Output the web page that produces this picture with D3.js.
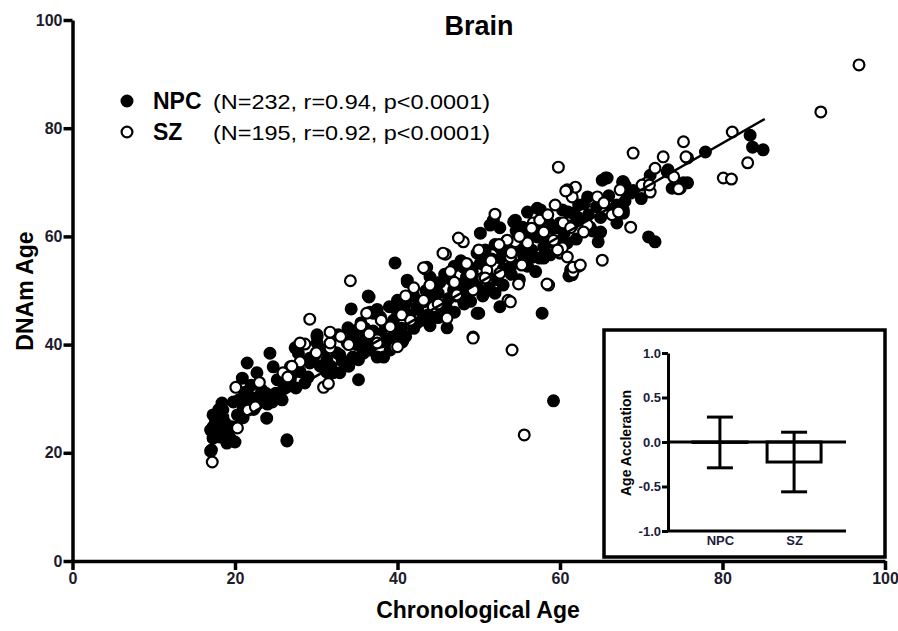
<!DOCTYPE html>
<html>
<head>
<meta charset="utf-8">
<script src="https://cdn.jsdelivr.net/npm/d3@7"></script>
<style>
  body { margin: 0; background: #fff; }
  text { font-family: Arial, "Liberation Sans", sans-serif; }
</style>
</head>
<body>
<svg id="chart" width="898" height="631"></svg>
<script>
'use strict';

// ---- data ----
var xTicks = [0, 20, 40, 60, 80, 100];
var yTicks = [0, 20, 40, 60, 80, 100];

var groups = ['NPC', 'SZ'];
var legendStats = ['(N=232, r=0.94, p<0.0001)', '(N=195, r=0.92, p<0.0001)'];

// [chronological age, DNAm age]
var npcPoints = [
    [17.1,20.5],[17.3,22.7],[17.3,24.8],[17.3,27.0],[18.4,29.2],[18.5,26.6],[18.4,24.2],[19.4,22.7],
    [20.0,22.0],[19.6,24.8],[19.8,29.4],[21.0,28.5],[21.9,30.3],[21.2,31.2],[23.3,31.6],[22.8,29.4],
    [24.6,29.4],[25.8,29.8],[23.9,26.4],[26.4,22.4],[20.9,33.8],[21.5,36.6],[22.7,34.8],[24.3,38.4],
    [24.7,35.9],[25.2,33.5],[26.8,33.5],[27.8,38.4],[28.6,32.9],[29.2,36.6],[30.1,40.3],[30.1,41.8],
    [31.3,37.2],[32.1,34.8],[32.9,34.8],[35.2,33.5],[34.5,37.7],[35.8,38.4],[36.6,39.0],[33.8,40.3],
    [37.5,37.7],[38.3,37.7],[32.7,41.8],[26.8,35.9],[17.0,24.2],[18.2,22.9],[18.5,27.9],[17.0,20.3],
    [40.6,40.5],[18.0,28.0],[18.8,25.5],[19.0,23.5],[17.6,26.0],[20.5,29.8],[21.5,30.0],[22.0,32.5],
    [22.3,28.0],[23.0,30.5],[23.8,31.0],[24.0,29.0],[25.0,31.0],[26.0,32.0],[27.0,34.5],[27.5,32.0],
    [28.0,35.0],[29.0,34.0],[29.8,38.0],[30.5,36.0],[31.0,39.0],[31.8,36.0],[32.5,38.5],[33.2,37.0],
    [34.0,36.0],[35.0,40.0],[36.0,41.0],[37.0,40.0],[38.0,42.0],[39.0,41.0],[21.0,26.5],[20.3,27.0],
    [19.0,21.8],[39.7,55.1],[36.5,48.8],[34.3,46.6],[46.1,43.1],[50.0,45.8],[41.2,51.6],[36.6,46.0],
    [37.9,45.1],[33.9,43.1],[35.0,42.7],[30.1,41.4],[27.4,39.4],[32.9,38.1],[35.2,37.2],[36.3,39.0],
    [39.1,39.0],[40.7,40.9],[42.4,44.0],[44.4,50.6],[46.9,50.1],[48.1,51.4],[48.9,54.3],[49.8,56.9],
    [30.7,39.0],[29.2,37.5],[31.3,34.9],[38.5,43.5],[39.5,44.5],[40.0,46.0],[40.5,43.0],[41.0,47.5],
    [41.5,45.5],[42.0,49.0],[42.5,46.5],[43.0,48.0],[43.5,50.0],[43.8,45.5],[44.0,52.5],[44.6,47.8],
    [45.0,49.5],[45.2,51.5],[45.5,46.5],[45.8,53.0],[46.3,48.5],[46.6,52.0],[47.0,54.5],[47.2,49.0],
    [47.5,51.0],[47.8,55.5],[48.2,47.5],[48.5,52.5],[48.8,50.0],[49.2,53.5],[49.5,51.5],[50.2,55.0],
    [50.5,49.0],[50.8,57.5],[51.0,53.0],[51.3,50.5],[51.6,55.8],[52.0,58.5],[52.3,52.0],[52.7,56.0],
    [53.0,54.0],[53.4,59.0],[53.8,57.0],[54.2,55.0],[54.6,61.0],[55.0,58.0],[55.5,56.5],[56.0,60.5],
    [56.5,57.5],[57.0,62.0],[57.5,56.0],[58.0,63.5],[58.5,59.0],[59.0,61.5],[59.5,58.5],[60.0,62.5],
    [60.5,60.5],[61.0,64.5],[61.5,62.0],[62.0,59.5],[62.5,63.0],[63.0,66.0],[63.5,64.0],[64.0,61.0],
    [64.5,65.5],[65.0,63.5],[66.0,67.5],[66.5,65.0],[67.0,62.5],[68.0,66.5],[69.0,68.5],[70.0,67.0],
    [34.5,41.5],[35.5,44.0],[36.0,43.0],[37.0,42.5],[37.5,46.5],[38.0,40.5],[39.0,47.0],[40.0,42.0],
    [41.0,41.5],[42.0,43.0],[43.0,44.5],[44.0,43.5],[45.0,45.0],[46.0,47.0],[47.0,46.0],[48.0,49.5],
    [49.0,48.0],[50.0,52.0],[51.0,50.0],[52.0,49.5],[53.0,51.0],[54.0,53.0],[55.0,52.0],[56.0,54.5],
    [57.0,53.5],[58.0,56.0],[56.0,64.5],[57.2,65.2],[60.6,58.8],[61.5,52.9],[57.8,45.8],[52.6,47.0],
    [50.2,60.6],[51.4,62.1],[54.5,63.0],[57.2,59.9],[54.8,59.7],[53.9,54.3],[56.7,56.2],[43.6,54.3],
    [41.2,51.9],[40.0,48.2],[49.8,45.8],[47.3,50.6],[44.9,51.4],[44.4,48.8],[42.4,47.0],[48.1,54.3],
    [50.5,56.2],[52.6,57.9],[59.7,61.6],[62.1,63.6],[49.8,50.5],[71.1,71.3],[73.8,68.9],[75.2,69.9],
    [73.2,71.9],[65.2,70.4],[65.8,70.8],[67.8,70.1],[68.4,68.0],[67.0,65.8],[67.8,64.9],[70.9,59.9],
    [71.7,59.0],[61.3,53.8],[64.7,59.0],[65.0,60.8],[63.7,61.7],[60.9,58.8],[60.0,56.9],[57.6,61.2],
    [58.6,62.5],[60.3,64.9],[61.6,64.3],[62.3,65.8],[63.4,67.3],[57.6,64.9],[54.3,62.7],[55.4,61.7],
    [56.0,59.9],[58.0,58.0],[58.8,56.6],[51.8,63.0],[52.6,61.6],[83.4,78.7],[83.7,76.5],[85.0,76.0],
    [77.9,75.6],[73.3,72.3],[75.7,69.9],[68.0,69.5],[68.7,68.0],[67.8,64.3],[59.2,29.6],[48.1,48.2],
    [61.1,52.7],[65.6,70.8],[67.7,70.1],[36.4,49.0],[37.0,45.8],[26.4,22.2]
];

var szPoints = [
    [17.2,18.3],[20.1,32.1],[20.3,24.6],[21.6,27.9],[25.9,34.8],[28.6,40.1],[30.9,32.1],[31.7,39.4],
    [36.2,45.8],[39.1,43.3],[39.7,39.6],[29.2,44.7],[28.0,36.8],[37.5,40.9],[31.7,40.3],[31.5,32.8],
    [34.2,51.8],[49.3,41.4],[43.4,54.0],[45.9,56.7],[43.2,47.9],[46.1,44.9],[44.4,47.0],[31.7,42.3],
    [28.0,40.3],[37.5,40.3],[40.0,39.6],[41.6,44.5],[47.3,49.2],[50.5,52.3],[48.1,59.0],[52.0,64.1],
    [59.4,65.8],[61.5,67.3],[60.0,57.1],[62.3,54.5],[61.6,53.4],[58.6,51.0],[54.9,51.2],[53.6,48.2],
    [47.5,59.7],[56.0,58.8],[51.0,53.8],[52.6,53.2],[55.3,54.7],[45.6,56.9],[43.2,54.2],[49.3,50.1],
    [43.2,48.2],[50.8,52.3],[54.5,59.0],[53.9,56.2],[58.0,60.8],[60.4,62.5],[59.8,72.8],[69.0,75.4],
    [72.7,74.7],[75.2,77.5],[75.7,74.5],[71.7,72.6],[74.0,71.0],[70.7,69.9],[71.1,68.2],[74.8,68.9],
    [67.4,68.6],[61.9,69.1],[60.9,68.6],[64.6,67.3],[65.4,66.2],[66.4,64.0],[67.2,64.5],[68.7,61.7],
    [65.2,55.6],[61.6,54.3],[62.5,54.7],[63.4,62.1],[62.9,60.8],[61.3,61.6],[60.3,57.9],[59.2,59.3],
    [56.7,62.5],[53.5,59.3],[59.7,57.5],[60.9,56.2],[96.8,91.7],[92.1,83.0],[81.2,79.3],[83.1,73.6],
    [80.1,70.8],[81.1,70.6],[75.5,74.7],[74.6,68.8],[70.1,69.5],[71.0,69.5],[60.7,68.4],[58.4,51.2],
    [53.9,47.9],[49.3,41.2],[54.1,39.0],[55.6,23.3],[33.0,41.5],[35.5,43.5],[38.0,44.5],[40.5,45.5],
    [42.0,50.5],[44.0,51.0],[46.5,53.5],[48.5,55.0],[50.0,57.5],[52.5,58.5],[54.0,57.0],[56.5,61.5],
    [57.5,63.0],[58.5,64.0],[41.0,49.0],[45.0,47.5],[47.0,51.5],[49.0,53.0],[51.5,55.5],[55.0,60.0],
    [23.0,33.0],[27.0,36.0],[30.0,38.5],[34.0,40.0],[36.5,42.0],[26.5,34.0],[22.5,28.5]
];

// regression line end points
var fitLine = [[17.0, 23.0], [85.2, 81.7]];

// inset: age acceleration, mean +/- error
var accelGroups = ['NPC', 'SZ'];
var accelMean = [-0.005, -0.225];
var accelErr = [0.285, 0.335];
var accelTicks = [-1, -0.5, 0, 0.5, 1];

// ---- drawing ----
var svg = d3.select('#chart');

var x = d3.scaleLinear().domain([0, 100]).range([72.5, 885]);
var y = d3.scaleLinear().domain([0, 100]).range([561, 20]);

function styleAxis(g, width, size, color) {
    g.select('.domain').attr('stroke', '#000').attr('stroke-width', width);
    g.selectAll('.tick line').attr('stroke', '#000').attr('stroke-width', width);
    g.selectAll('.tick text')
        .attr('fill', color)
        .style('font-size', size + 'px')
        .style('font-weight', 'bold')
        .style('font-family', 'Arial, "Liberation Sans", sans-serif');
}

var xAxis = svg.append('g')
    .attr('transform', 'translate(0,561)')
    .call(d3.axisBottom(x).tickValues(xTicks).tickSize(9).tickSizeOuter(0).tickPadding(3));
styleAxis(xAxis, 3.5, 16, '#1c1c2c');

var yAxis = svg.append('g')
    .attr('transform', 'translate(72.5,0)')
    .call(d3.axisLeft(y).tickValues(yTicks).tickSize(9).tickSizeOuter(0).tickPadding(1));
styleAxis(yAxis, 3.5, 16, '#1c1c2c');

// title + axis labels
svg.append('text')
    .attr('x', 479).attr('y', 35)
    .attr('text-anchor', 'middle')
    .style('font-size', '27px').style('font-weight', 'bold')
    .text('Brain');

svg.append('text')
    .attr('x', 478).attr('y', 618)
    .attr('text-anchor', 'middle')
    .style('font-size', '23px').style('font-weight', 'bold')
    .text('Chronological Age');

svg.append('text')
    .attr('transform', 'translate(33,291) rotate(-90)')
    .attr('text-anchor', 'middle')
    .style('font-size', '23px').style('font-weight', 'bold')
    .text('DNAm Age');

// points
var pts = svg.append('g');
pts.selectAll('circle.npc')
    .data(npcPoints)
    .join('circle')
    .attr('class', 'npc')
    .attr('cx', d => x(d[0]))
    .attr('cy', d => y(d[1]))
    .attr('r', 5.4)
    .attr('fill', '#000')
    .attr('stroke', '#000')
    .attr('stroke-width', 2.2);

pts.selectAll('circle.sz')
    .data(szPoints)
    .join('circle')
    .attr('class', 'sz')
    .attr('cx', d => x(d[0]))
    .attr('cy', d => y(d[1]))
    .attr('r', 5.4)
    .attr('fill', '#fff')
    .attr('stroke', '#000')
    .attr('stroke-width', 2.2);

// regression line
svg.append('path')
    .datum(fitLine)
    .attr('d', d3.line().x(d => x(d[0])).y(d => y(d[1])))
    .attr('fill', 'none')
    .attr('stroke', '#000')
    .attr('stroke-width', 2.5);

// legend
var legend = svg.append('g');
groups.forEach(function(name, i) {
    var ly = 101 + i * 31;
    legend.append('circle')
        .attr('cx', 127).attr('cy', ly)
        .attr('r', 5.4)
        .attr('fill', i === 0 ? '#000' : '#fff')
        .attr('stroke', '#000')
        .attr('stroke-width', 2.2);
    legend.append('text')
        .attr('x', 153).attr('y', ly + 8)
        .style('font-size', '23px').style('font-weight', 'bold')
        .text(name);
    legend.append('text')
        .attr('x', 213).attr('y', ly + 8)
        .style('font-size', '21px')
        .attr('textLength', 277).attr('lengthAdjust', 'spacingAndGlyphs')
        .text(legendStats[i]);
});

// ---- inset ----
var inset = svg.append('g');
inset.append('rect')
    .attr('x', 604).attr('y', 330)
    .attr('width', 281).attr('height', 227)
    .attr('fill', '#fff')
    .attr('stroke', '#000')
    .attr('stroke-width', 3.5);

var xi = d3.scalePoint().domain(accelGroups).range([668, 846]).padding(0.7);
var yi = d3.scaleLinear().domain([-1, 1]).range([531, 353]);

var yiAxis = inset.append('g')
    .attr('transform', 'translate(668,0)')
    .call(d3.axisLeft(yi).tickValues(accelTicks).tickSize(6).tickSizeOuter(0).tickPadding(1)
        .tickFormat(d => d.toFixed(1)));
styleAxis(yiAxis, 3, 13, '#1c1c3c');

var xiAxis = inset.append('g')
    .attr('transform', 'translate(0,531)')
    .call(d3.axisBottom(xi).tickSize(0).tickPadding(5));
xiAxis.select('.domain').attr('d', 'M668,0H846');
styleAxis(xiAxis, 3, 13, '#1c1c3c');

inset.append('text')
    .attr('transform', 'translate(631,443) rotate(-90)')
    .attr('text-anchor', 'middle')
    .style('font-size', '14px').style('font-weight', 'bold')
    .text('Age Accleration');

// bars
var barW = 54, capW = 26;
inset.selectAll('rect.bar')
    .data(accelGroups)
    .join('rect')
    .attr('class', 'bar')
    .attr('x', d => xi(d) - barW / 2)
    .attr('y', (d, i) => Math.min(yi(0), yi(accelMean[i])))
    .attr('width', barW)
    .attr('height', (d, i) => Math.abs(yi(accelMean[i]) - yi(0)))
    .attr('fill', '#fff')
    .attr('stroke', '#000')
    .attr('stroke-width', 3);

// zero line
inset.append('line')
    .attr('x1', 668).attr('x2', 846)
    .attr('y1', yi(0)).attr('y2', yi(0))
    .attr('stroke', '#000').attr('stroke-width', 3);

// error bars
var err = inset.selectAll('g.err')
    .data(accelGroups)
    .join('g')
    .attr('class', 'err');
err.append('line')
    .attr('x1', d => xi(d)).attr('x2', d => xi(d))
    .attr('y1', (d, i) => yi(accelMean[i] + accelErr[i]))
    .attr('y2', (d, i) => yi(accelMean[i] - accelErr[i]))
    .attr('stroke', '#000').attr('stroke-width', 3);
err.append('line')
    .attr('x1', d => xi(d) - capW / 2).attr('x2', d => xi(d) + capW / 2)
    .attr('y1', (d, i) => yi(accelMean[i] + accelErr[i]))
    .attr('y2', (d, i) => yi(accelMean[i] + accelErr[i]))
    .attr('stroke', '#000').attr('stroke-width', 3);
err.append('line')
    .attr('x1', d => xi(d) - capW / 2).attr('x2', d => xi(d) + capW / 2)
    .attr('y1', (d, i) => yi(accelMean[i] - accelErr[i]))
    .attr('y2', (d, i) => yi(accelMean[i] - accelErr[i]))
    .attr('stroke', '#000').attr('stroke-width', 3);
</script>
</body>
</html>
